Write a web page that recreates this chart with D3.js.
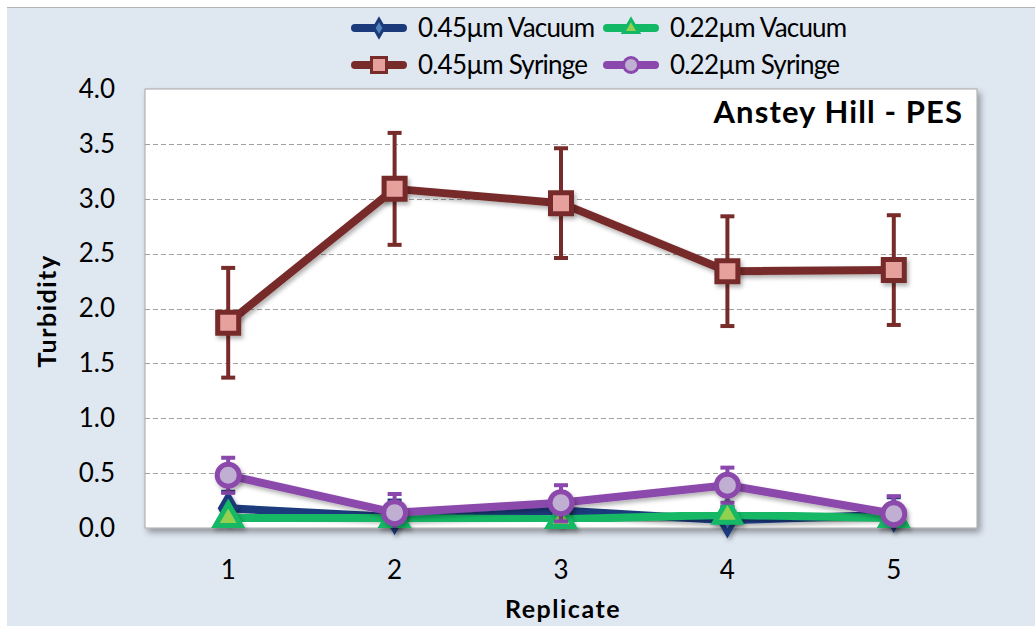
<!DOCTYPE html>
<html>
<head>
<meta charset="utf-8">
<script src="https://cdn.jsdelivr.net/npm/d3@7"></script>
<style>
  body { margin: 0; background: #fff; }
  text { font-family: Lato, "Open Sans", sans-serif; fill: #000; }
</style>
</head>
<body>
<svg id="chart"></svg>
<script>
// data
const replicates = ["1", "2", "3", "4", "5"];
const yTicks = [0, 0.5, 1, 1.5, 2, 2.5, 3, 3.5, 4];
const seriesNames = ["0.45µm Vacuum", "0.22µm Vacuum", "0.45µm Syringe", "0.22µm Syringe"];
const vac045 = [0.18, 0.10, 0.16, 0.07, 0.12];
const vac045Err = [0.15, 0.15, 0.15, 0.12, 0.16];
const vac022 = [0.09, 0.09, 0.08, 0.12, 0.09];
const vac022Err = [0.05, 0.05, 0.05, 0.05, 0.05];
const syr045 = [1.87, 3.09, 2.96, 2.34, 2.35];
const syr045Err = [0.50, 0.51, 0.50, 0.50, 0.50];
const syr022 = [0.48, 0.14, 0.23, 0.39, 0.13];
const syr022Err = [0.16, 0.17, 0.16, 0.16, 0.16];

const styles = [
  {line: "#1b3a7c", fill: "#4f81bd", shape: "diamond"},
  {line: "#12b865", fill: "#92d050", shape: "triangle"},
  {line: "#772c2a", fill: "#e6a19c", shape: "square"},
  {line: "#8b48ac", fill: "#c0afd2", shape: "circle"}
];

const series = [
  {name: seriesNames[0], values: vac045, err: vac045Err, style: styles[0]},
  {name: seriesNames[1], values: vac022, err: vac022Err, style: styles[1]},
  {name: seriesNames[2], values: syr045, err: syr045Err, style: styles[2]},
  {name: seriesNames[3], values: syr022, err: syr022Err, style: styles[3]}
];

const W = 1035, H = 627;
const plot = {left: 145, top: 89, right: 977, bottom: 528};

const svg = d3.select("#chart").attr("width", W).attr("height", H);

const defs = svg.append("defs");
defs.append("filter").attr("id", "shadow")
  .attr("x", "-10%").attr("y", "-10%").attr("width", "130%").attr("height", "130%")
  .append("feDropShadow")
  .attr("dx", 3).attr("dy", 4).attr("stdDeviation", 3)
  .attr("flood-color", "#000").attr("flood-opacity", 0.35);
defs.append("filter").attr("id", "mshadow")
  .attr("x", "-50%").attr("y", "-50%").attr("width", "200%").attr("height", "200%")
  .append("feDropShadow")
  .attr("dx", 2).attr("dy", 3).attr("stdDeviation", 2)
  .attr("flood-color", "#000").attr("flood-opacity", 0.3);

// chart background
svg.append("rect").attr("x", 7).attr("y", 7).attr("width", W - 7).attr("height", H - 8)
  .attr("fill", "#dfe7f1");
svg.append("line").attr("x1", 7).attr("x2", W).attr("y1", 7.5).attr("y2", 7.5)
  .attr("stroke", "#b4b4b4").attr("stroke-width", 1);

const x = d3.scaleBand().domain(replicates).range([plot.left, plot.right]);
const y = d3.scaleLinear().domain([0, 4]).range([plot.bottom, plot.top]);

// plot area
svg.append("rect")
  .attr("x", plot.left).attr("y", plot.top)
  .attr("width", plot.right - plot.left).attr("height", plot.bottom - plot.top)
  .attr("fill", "#fff").attr("stroke", "#a6a6a6").attr("stroke-width", 1)
  .attr("filter", "url(#shadow)");

// gridlines
svg.append("g").selectAll("line")
  .data(yTicks.filter(d => d > 0 && d < 4))
  .join("line")
  .attr("x1", plot.left).attr("x2", plot.right)
  .attr("y1", d => Math.round(y(d)) + 0.5).attr("y2", d => Math.round(y(d)) + 0.5)
  .attr("stroke", "#a0a0a0").attr("stroke-dasharray", "5,3");

// axes
const yAxis = d3.axisLeft(y).tickValues(yTicks).tickFormat(d3.format(".1f")).tickSize(0).tickPadding(30);
const yg = svg.append("g").attr("transform", `translate(${plot.left},0)`).call(yAxis);
yg.select(".domain").remove();
yg.selectAll("text").attr("font-size", 26).attr("font-family", "Lato, sans-serif").attr("fill", "#000");

const xAxis = d3.axisBottom(x).tickSize(0).tickPadding(33);
const xg = svg.append("g").attr("transform", `translate(0,${plot.bottom})`).call(xAxis);
xg.select(".domain").remove();
xg.selectAll("text").attr("font-size", 26).attr("font-family", "Lato, sans-serif").attr("fill", "#000");

svg.append("text").attr("x", 563).attr("y", 618).attr("text-anchor", "middle")
  .attr("font-size", 25).attr("font-weight", "bold").attr("letter-spacing", 1.5).text("Replicate");
svg.append("text").attr("transform", "translate(56,311) rotate(-90)").attr("text-anchor", "middle")
  .attr("font-size", 25).attr("font-weight", "bold").attr("letter-spacing", 1.5).text("Turbidity");

svg.append("text").attr("x", 963).attr("y", 123).attr("text-anchor", "end")
  .attr("font-size", 31).attr("font-weight", "bold").attr("letter-spacing", 1.1).text("Anstey Hill - PES");

// marker shape
function markerPath(shape, s) {
  if (shape === "square") return d3.symbol(d3.symbolSquare, s * s)();
  if (shape === "circle") return d3.symbol(d3.symbolCircle, Math.PI * (s / 2) * (s / 2))();
  if (shape === "triangle") return d3.symbol(d3.symbolTriangle, s * s * 0.45)();
  return d3.symbol(d3.symbolDiamond, s * s * 0.35)();
}
const markerSize = {square: 21, circle: 22, triangle: 25, diamond: 24};

const line = d3.line().x((d, i) => x(replicates[i]) + x.bandwidth() / 2).y(d => y(d));

series.forEach(s => {
  const g = svg.append("g");
  const c = s.style.line;
  // error bars
  const eb = g.append("g").selectAll("g").data(s.values).join("g")
    .attr("transform", (d, i) => `translate(${x(replicates[i]) + x.bandwidth() / 2},0)`);
  eb.append("line")
    .attr("y1", (d, i) => y(d + s.err[i])).attr("y2", (d, i) => y(Math.max(0, d - s.err[i])))
    .attr("stroke", c).attr("stroke-width", 4);
  eb.append("line").attr("x1", -7).attr("x2", 7)
    .attr("y1", (d, i) => y(d + s.err[i])).attr("y2", (d, i) => y(d + s.err[i]))
    .attr("stroke", c).attr("stroke-width", 4);
  eb.filter((d, i) => d - s.err[i] > 0).append("line").attr("x1", -7).attr("x2", 7)
    .attr("y1", (d, i) => y(d - s.err[i])).attr("y2", (d, i) => y(d - s.err[i]))
    .attr("stroke", c).attr("stroke-width", 4);

  g.append("path").datum(s.values)
    .attr("d", line).attr("fill", "none").attr("stroke", c)
    .attr("stroke-width", 8).attr("stroke-linejoin", "round").attr("stroke-linecap", "round")
    .attr("filter", "url(#mshadow)");

  g.append("g").selectAll("path").data(s.values).join("path")
    .attr("transform", (d, i) => `translate(${x(replicates[i]) + x.bandwidth() / 2},${y(d)})`)
    .attr("d", markerPath(s.style.shape, markerSize[s.style.shape]))
    .attr("fill", s.style.fill).attr("stroke", c).attr("stroke-width", 5)
    .attr("stroke-linejoin", "miter")
    .attr("filter", "url(#mshadow)");
});

// legend
const legendPos = [
  {lx: 355, ty: 28}, {lx: 607, ty: 28}, {lx: 355, ty: 65}, {lx: 607, ty: 65}
];
series.forEach((s, i) => {
  const p = legendPos[i];
  const g = svg.append("g").attr("transform", `translate(${p.lx},${p.ty})`);
  g.append("line").attr("x1", 0).attr("x2", 48).attr("stroke", s.style.line)
    .attr("stroke-width", 8).attr("stroke-linecap", "round");
  const ms = {square: 15, circle: 15, triangle: 15, diamond: 16}[s.style.shape];
  g.append("path").attr("transform", "translate(24,0)")
    .attr("d", markerPath(s.style.shape, ms))
    .attr("fill", s.style.fill).attr("stroke", s.style.line).attr("stroke-width", 3);
  g.append("text").attr("x", 63).attr("y", 0).attr("dy", "0.36em")
    .attr("font-size", 26).attr("letter-spacing", -0.8).text(s.name);
});
</script>
</body>
</html>
